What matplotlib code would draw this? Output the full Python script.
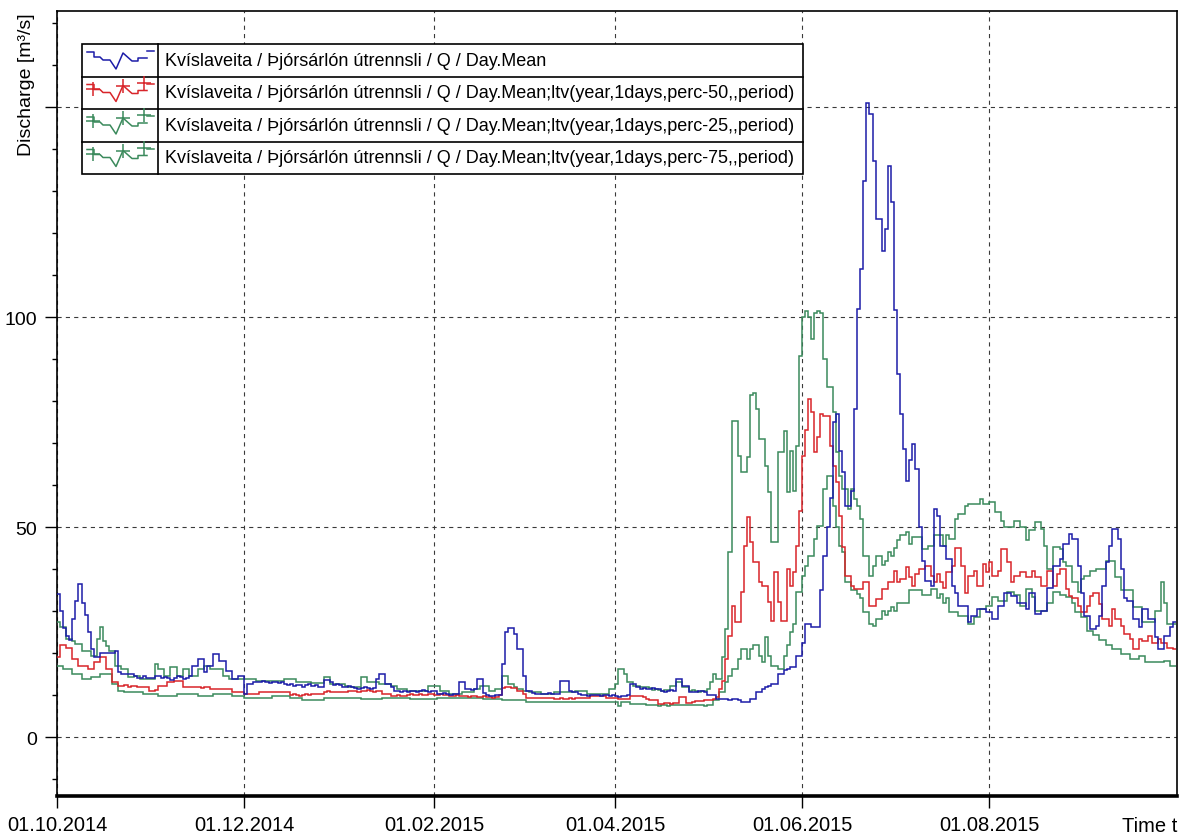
# Discharge chart, Kvíslaveita / Þjórsárlón útrennsli
import numpy as np
import matplotlib
matplotlib.use("Agg")
from matplotlib import pyplot as plt
from matplotlib.lines import Line2D
from matplotlib.patches import Rectangle
import matplotlib.dates as mdates
from datetime import datetime, timedelta

plt.rcParams['font.family'] = ['Liberation Sans', 'DejaVu Sans']
plt.rcParams['lines.scale_dashes'] = False

# daily values from 01.10.2014, one per day
start = datetime(2014, 10, 1)

day_mean = [
    34, 30, 26, 24, 23, 28, 32.5, 36.5, 32, 29,
    25, 21, 19, 19, 20, 20, 20, 20, 20, 20.5,
    15.5, 15, 15, 15, 15, 14.5, 14, 14, 14.5, 14,
    14, 14, 14.6, 14.6, 14, 14.2, 14, 13.6, 14, 14.6,
    14.2, 13.8, 14, 14.6, 17, 17, 18.6, 18.6, 15.4, 17,
    17, 19.8, 19.8, 18, 18, 15.8, 15.8, 13.8, 13.8, 14.6,
    14.6, 10.2, 12.6, 12.6, 13, 13.2, 13, 13.4, 13, 12.8,
    13, 13.2, 12.8, 13, 12.6, 12.4, 12.6, 12.2, 12.4, 12.4,
    12, 12.4, 12.6, 12.2, 12.4, 12, 12, 13.5, 13.5, 13,
    12.4, 12.6, 12.4, 11.8, 12, 12.2, 11.8, 11.6, 11.4, 11.6,
    11.8, 11.6, 11.4, 11.6, 13.8, 15, 15, 12.6, 12.6, 12,
    11, 11, 10.8, 11, 10.8, 11, 11, 10.8, 11, 11.2,
    11, 10.8, 11, 11, 10.2, 10.2, 10.4, 10.2, 10, 10.2,
    10.2, 13, 13, 11.4, 11.4, 11.2, 11.4, 13.8, 13.8, 10.4,
    10, 9.8, 9.8, 10, 10, 17.4, 25, 26, 26, 24.5,
    21, 21, 14.6, 11, 11, 10.4, 10.2, 10.2, 10.2, 10.2,
    10.4, 10.2, 10.2, 10.2, 13.3, 13.3, 13.3, 11, 10.6, 10.6,
    10.2, 10, 10, 9.8, 10, 10, 10, 9.8, 10, 10,
    9.8, 10, 9.8, 9.6, 9.8, 9.8, 10, 12.6, 12.6, 11.8,
    11.5, 11.6, 11.4, 11.5, 11.6, 11.4, 11.5, 11, 10.8, 11,
    11.2, 11, 13.8, 13.8, 12.2, 12.2, 10.8, 10.6, 10.8, 11,
    11, 10.8, 9.9, 9.9, 9.9, 9, 9, 9.1, 9, 8.9,
    9, 9, 8.8, 8.3, 8.3, 8.3, 9, 9, 10.6, 10.6,
    11.4, 11.8, 12.2, 12.6, 12.6, 15, 15, 16, 16.2, 16.6,
    16.6, 19.4, 19.4, 22.5, 27, 27, 26.1, 26.1, 26.1, 35,
    43, 50, 57, 75, 77, 68, 63, 55, 55, 58.7,
    78, 102, 111.4, 132.5, 151, 148.3, 137.2, 123.3, 123.3, 115.8,
    121.1, 136, 127.5, 101.8, 86.4, 76.9, 68.6, 61, 66, 69.7,
    63.8, 50, 42, 37.2, 37.2, 36, 54.3, 52.7, 45.5, 45.5,
    42.4, 42.4, 36, 34.4, 31.3, 31.3, 31.3, 27.3, 28.9, 28.9,
    30.5, 30.5, 30.5, 29.7, 29.7, 28.1, 28.1, 31.3, 31.3, 34.4,
    34.4, 33.6, 33.6, 32, 32, 32, 30.5, 34.4, 34.4, 29.3,
    29.3, 30, 30, 35.6, 35.6, 40.8, 40.8, 42.4, 46, 46,
    48.3, 47.1, 47.1, 40.8, 34.4, 28.9, 28.9, 25.7, 25.7, 26.5,
    28.9, 36, 41.6, 45.5, 49.5, 49.5, 47.1, 40, 33.2, 32.4,
    32.4, 28.1, 28.1, 26.1, 30.5, 30.5, 28.1, 28.1, 23.7, 21,
    21, 24.1, 24.1, 26.1, 27.3,
]

perc50 = [
    19, 22, 22, 21.3, 21.3, 18.6, 18.6, 17, 17, 17,
    16.2, 16.2, 17.8, 17.8, 19, 19, 16.2, 16.2, 13, 13,
    12.2, 12.2, 12.4, 12, 12.2, 12.2, 11.8, 11.8, 11.8, 11.8,
    11, 11, 11.2, 12.2, 12.2, 12.2, 13, 13, 13.4, 13.4,
    13.4, 11.8, 11.8, 12, 11.8, 11.8, 11.8, 11.6, 11.8, 11.8,
    11.4, 11.4, 11.4, 11.4, 11.4, 11.4, 11.4, 10.6, 10.6, 10.6,
    10.6, 10.2, 10.2, 10.2, 10.2, 10.2, 10.6, 10.6, 10.6, 10.6,
    10.6, 10.6, 10.6, 10.6, 10.6, 10.6, 10, 10.2, 10, 9.8,
    10, 10.2, 10, 10.2, 10.2, 10.2, 10.2, 10.8, 11, 10.8,
    10.8, 10.6, 10.8, 10.6, 10.8, 11, 11, 11, 10.8, 11,
    11, 11.2, 11, 10.8, 11, 11, 10.2, 10.2, 10.2, 9.8,
    9.8, 10, 9.8, 9.8, 10, 10.2, 10, 10, 10.2, 10,
    10, 10.2, 10.2, 10, 10, 10.2, 10, 10, 9.8, 9.8,
    10, 9.8, 9.8, 9.8, 9.6, 9.8, 9.8, 9.6, 9.6, 9.8,
    9.6, 9.6, 9.4, 9.6, 10, 11.6, 12, 11.8, 11.6, 11.6,
    11, 11, 10.2, 9.4, 9.4, 9.4, 9.4, 9.4, 9.4, 9.4,
    9.4, 9.4, 9, 9, 9.2, 9, 9, 9.2, 9, 9.4,
    9.4, 9.4, 9.4, 9.4, 9.8, 9.8, 9.8, 9.8, 9.8, 9.4,
    9.4, 9.4, 9.4, 9, 9, 9, 9, 9.8, 9.8, 9.8,
    9.8, 9.5, 9, 8.7, 8.7, 8.7, 7.9, 7.9, 8, 8,
    7.9, 8, 8, 9.5, 9.5, 8.2, 8.2, 8.4, 8.6, 8.6,
    8.6, 8.7, 8.7, 8.7, 9, 9.5, 11.4, 13.4, 18.6, 24.1,
    31.3, 27.3, 27.3, 34.5, 45.6, 52.3, 46.4, 41.6, 41.6, 36.8,
    36, 36, 32.1, 27.7, 39.2, 32.1, 27.7, 27.7, 40, 36,
    39.2, 45.6, 53.9, 67, 73, 80.5, 77.3, 67.8, 71.4, 76.9,
    76.5, 76.5, 69.4, 64.6, 60.7, 52.7, 45.2, 38.4, 38.4, 36,
    35.3, 35.3, 35.3, 36.8, 36.8, 31.3, 31.3, 32.8, 32.8, 35.2,
    35.2, 36.8, 36.8, 39.6, 36.8, 37.6, 37.6, 40.4, 38, 36,
    38.8, 40, 40, 40.8, 40.8, 38.4, 36.8, 38.8, 36.8, 35.6,
    39.2, 39.2, 40.8, 45.1, 45.1, 40.8, 34.4, 38.4, 38.4, 39.6,
    36, 36, 41.2, 39.2, 41.6, 38.4, 38.4, 39.6, 44.7, 44.7,
    41.6, 36.8, 38.4, 38.4, 39.2, 39.2, 38, 38, 39.6, 38,
    38, 36, 36, 39.6, 39.6, 36, 38.8, 40, 40, 35.2,
    33.6, 33.2, 33.2, 31.3, 29.7, 29.7, 31.3, 33.6, 34.4, 34.4,
    31.7, 28.1, 28.1, 26.5, 30.5, 28.1, 28.1, 26.5, 24.5, 24.5,
    23.3, 21, 21, 23.3, 22.9, 22.9, 24.1, 22.5, 22.5, 23.3,
    22.5, 22.5, 21.3, 21.3, 21,
]

perc25 = [
    17, 17, 16.2, 16.2, 16.2, 15, 15, 15, 13.8, 13.8,
    13.8, 14.2, 14.2, 14.2, 15, 15, 15, 15, 12.6, 12.6,
    11, 11, 10.6, 10.6, 10.6, 10.6, 10.6, 10.6, 10.2, 10.2,
    10.2, 10.2, 10.2, 9.8, 9.8, 9.8, 9.8, 9.8, 9.8, 10.2,
    10.2, 10.2, 10.2, 10.2, 10.2, 10.2, 9.8, 9.8, 9.8, 9.8,
    9.8, 10.2, 10.2, 10.2, 10.2, 10.2, 10.2, 9.8, 9.8, 9.8,
    9.8, 9.4, 9.4, 9.4, 9.4, 9.4, 9.4, 9.4, 9.4, 9.4,
    9.8, 9.8, 9.8, 9.8, 9.8, 9.8, 9.4, 9.4, 9.4, 9.4,
    8.7, 8.7, 8.7, 8.7, 8.7, 8.7, 8.7, 9.4, 9.4, 9.4,
    9.4, 9.4, 9.4, 9.4, 9.4, 9.4, 9.4, 9.4, 9.4, 9,
    9, 9, 9, 9, 9, 9, 9.4, 9.4, 9.4, 9.4,
    9.4, 9.4, 9.4, 9.4, 9.4, 9, 9, 9, 9, 9,
    9, 9, 9, 9, 9.4, 9.4, 9.4, 9.4, 9.4, 9.4,
    9.4, 9.4, 9.4, 9.4, 9.4, 9.4, 9.4, 9.4, 9.4, 9,
    9, 9, 9, 9, 9, 8.7, 8.7, 8.7, 8.7, 8.7,
    8.7, 8.7, 8.7, 8.3, 8.3, 8.3, 8.3, 8.3, 8.3, 8.3,
    8.3, 8.3, 8.3, 8.3, 8.3, 8.3, 8.3, 8.3, 8.3, 8.3,
    8.3, 8.4, 8.4, 8.4, 8.4, 8.4, 8.4, 8.4, 8.4, 8.4,
    8.4, 8.4, 8.4, 7.5, 8.3, 8.3, 8.3, 7.9, 7.9, 7.8,
    7.9, 7.8, 7.7, 7.7, 7.6, 7.6, 7.5, 7.6, 7.6, 7.5,
    7.6, 7.6, 7.7, 7.6, 7.6, 7.7, 7.6, 7.6, 7.7, 7.6,
    7.6, 7.5, 7.6, 7.7, 8.7, 8.7, 10.6, 10.6, 13, 14.6,
    16.2, 16.2, 18.6, 21, 21, 18.6, 21, 21.8, 21.8, 19.4,
    17.8, 23.7, 19.4, 17, 17, 16.2, 16.2, 19.4, 21.8, 24.9,
    26.9, 34.5, 34.5, 38.4, 40.8, 43.2, 43.2, 47.2, 50.3, 50.3,
    59, 62.2, 62.2, 55, 50, 45.5, 44, 37, 36.8, 35,
    35, 34, 33, 29.7, 29.7, 27, 26.5, 28, 28, 30,
    29, 30, 31, 30, 32, 32, 32, 32, 34.9, 34.9,
    34.9, 34.9, 33.7, 33.7, 33.7, 35.3, 35.3, 33, 34, 32,
    33, 29.7, 29.7, 29.7, 28.9, 28.9, 28.9, 27, 27, 28.5,
    28.5, 30.5, 30.5, 31.3, 31.3, 33.3, 33.3, 32.5, 32.5, 32.5,
    34.5, 34.5, 33.7, 33.7, 31.3, 31.3, 35.3, 35.3, 33.3, 30.1,
    30.1, 30.1, 30.1, 32, 32, 34.5, 34.5, 33.7, 33.7, 33.3,
    33.3, 32, 29.7, 29.7, 28.5, 28.5, 25.3, 25.3, 24.2, 24.2,
    23, 23, 21.8, 21.8, 21, 21, 21, 19.8, 19.8, 19.8,
    18.6, 18.6, 18.6, 19.2, 19.2, 17.8, 17.8, 17.8, 17.8, 17.8,
    17.8, 18.2, 18.2, 17, 17,
]

perc75 = [
    27.3, 26.1, 26.1, 23.3, 23.3, 22.9, 22.1, 22.1, 20.6, 20.6,
    20.6, 19.4, 19.4, 23.3, 26.1, 22.9, 21.7, 20.6, 20.6, 17,
    17, 16.2, 16.2, 14.2, 14.2, 14.6, 14.6, 13.8, 13.8, 13.8,
    13.8, 13.8, 17.4, 16.2, 16.2, 14.6, 14.6, 16.6, 16.6, 14.6,
    14.6, 16.2, 16.2, 14.6, 14.6, 14.6, 16.2, 16.2, 17, 17,
    16.2, 16.2, 16.2, 16.2, 14.6, 14.6, 13.8, 13.8, 13.8, 13.8,
    13.8, 13.8, 13.8, 13.8, 13.8, 13.4, 13.4, 13.4, 13.4, 13.4,
    13.4, 13.4, 13.4, 13.4, 13.8, 13.8, 13.8, 13.8, 13, 13,
    13, 13, 13, 12.8, 12.8, 12.8, 12.8, 14.2, 14.2, 12.6,
    12.6, 12.6, 12.6, 12.6, 12.2, 12, 12, 12, 12, 14.2,
    14.2, 13, 13, 13, 13, 12.6, 12.6, 12.6, 12.6, 12.2,
    12.2, 11.4, 11.4, 11.4, 11, 11, 11, 11, 11, 11,
    11, 12.2, 12.2, 12.2, 12.2, 11, 11, 11, 10.2, 10.2,
    10.2, 10.2, 10.6, 10.6, 10.6, 10.6, 11.4, 11.4, 12.2, 12.2,
    12.2, 11, 11, 11.4, 11.4, 14.6, 14.6, 12.6, 12.6, 12,
    11.4, 11.4, 11, 11, 10.6, 10.6, 10.6, 10.6, 10.2, 10.2,
    10.2, 10.2, 10.6, 10.6, 10.6, 10.6, 10.6, 10.6, 10.6, 11,
    11, 11, 11, 10.2, 10.2, 10.2, 10.2, 10.2, 10.2, 10.2,
    11.4, 11.4, 12.6, 16.2, 16.2, 15, 13, 13, 12.2, 12.2,
    11.8, 11.8, 11.8, 11.6, 11.2, 11.4, 11.2, 11, 11.2, 11.2,
    12.2, 12.2, 13, 13, 12, 12, 11, 11.2, 11, 10.8,
    11, 11, 11.4, 13, 15, 13.8, 13.8, 19, 25.7, 44,
    75.3, 75.3, 67, 63, 63, 66.6, 81.5, 82, 78.1, 71,
    71, 64.6, 58.3, 46.4, 46.4, 67.8, 67.8, 72.9, 58.3, 68.2,
    58.7, 69.4, 90.8, 100, 101.5, 100, 94.8, 101, 101.5, 101,
    90, 83.3, 83.3, 77.3, 67.8, 62.2, 59, 59, 54.3, 59,
    56.7, 55, 51.9, 43.2, 43.2, 38.4, 40.7, 43.2, 43.2, 41,
    42, 44, 43, 45, 47, 48, 48, 48.8, 46, 47.6,
    47.6, 47.6, 44.8, 44.8, 45.6, 45.6, 48, 48, 48, 45.6,
    48, 47.2, 47.2, 52, 53.1, 53.1, 55.1, 55.5, 55.5, 55.5,
    55.5, 56.7, 55.5, 55.5, 55.9, 55.9, 53.5, 53.5, 51.5, 50,
    50, 50, 51.5, 51.5, 50, 50, 46.8, 49.2, 49.2, 51.1,
    51.1, 49.5, 45.6, 40, 40, 45.2, 45.2, 44.8, 41.6, 40.8,
    40.8, 36.9, 36.9, 34.5, 37.6, 38.4, 38.4, 39.6, 39.6, 40,
    40, 40, 42, 42, 42, 38, 38, 35, 35, 35,
    35, 31, 31, 31, 27.5, 27.5, 27.5, 27.5, 30, 30,
    36.9, 32, 27, 27, 27,
]

series = [
    ("Kvíslaveita / Þjórsárlón útrennsli / Q / Day.Mean", day_mean, "#1c1ca8"),
    ("Kvíslaveita / Þjórsárlón útrennsli / Q / Day.Mean;ltv(year,1days,perc-50,,period)", perc50, "#d8252a"),
    ("Kvíslaveita / Þjórsárlón útrennsli / Q / Day.Mean;ltv(year,1days,perc-25,,period)", perc25, "#3b8a5c"),
    ("Kvíslaveita / Þjórsárlón útrennsli / Q / Day.Mean;ltv(year,1days,perc-75,,period)", perc75, "#3b8a5c"),
]

month_ticks = [datetime(2014, 10, 1), datetime(2014, 12, 1), datetime(2015, 2, 1),
               datetime(2015, 4, 1), datetime(2015, 6, 1), datetime(2015, 8, 1)]
y_major = [0, 50, 100, 150]
y_labels = ["0", "50", "100", ""]

W, H = 1185, 837
fig = plt.figure(figsize=(W / 100, H / 100), dpi=100)
ax = fig.add_axes([57 / W, 1 - 797 / H, (1177 - 57) / W, (797 - 12) / H])


def day_edges(n):
    return mdates.date2num([start + timedelta(days=i) for i in range(n + 1)])


# draw the percentiles first, the actual year on top
for name, vals, col in [series[3], series[2], series[1], series[0]]:
    ax.stairs(vals, day_edges(len(vals)), baseline=None, color=col, lw=1.1, zorder=3)

ax.set_xlim(mdates.date2num(start), mdates.date2num(start + timedelta(days=365.3)))
ax.set_ylim(-14.05, 172.9)

ax.set_xticks(mdates.date2num(month_ticks))
ax.set_xticklabels([d.strftime("%d.%m.%Y") for d in month_ticks])
ax.set_yticks(y_major)
ax.set_yticklabels(y_labels)
ax.set_yticks(np.arange(-10, 171, 10), minor=True)

ax.tick_params(axis='both', which='major', direction='out', length=8.6, width=1,
               colors='black')
ax.tick_params(axis='y', which='minor', direction='out', length=3.6, width=1)
ax.tick_params(axis='y', which='major', pad=6, labelsize=14)
ax.tick_params(axis='x', which='major', pad=5, labelsize=14.5)

ax.grid(True, which='major', linestyle=(0, (3, 3)), color='#3a3a3a', lw=0.8, zorder=1)

for s in ['left', 'top', 'right']:
    ax.spines[s].set_linewidth(1.2)
ax.spines['bottom'].set_linewidth(2.6)


def fx(x):
    return x / W


def fy(y):
    return 1 - y / H


# axis titles
fig.text(fx(26.5), fy(13), "Discharge [m³/s]", rotation=90, ha='center', va='top', fontsize=14)
fig.text(fx(1177), fy(827), "Time t", ha='right', va='center', fontsize=14.5)

# table-like legend box
box_l, box_r, box_t, row_h, div_x = 82, 803, 45, 32.5, 158
fig.add_artist(Rectangle((fx(box_l), fy(box_t + 4 * row_h)), fx(box_r) - fx(box_l),
                         fy(box_t) - fy(box_t + 4 * row_h), transform=fig.transFigure,
                         facecolor='white', edgecolor='black', lw=1.2, zorder=5))
for i in range(1, 4):
    yy = box_t + i * row_h
    fig.add_artist(Line2D([fx(box_l), fx(box_r)], [fy(yy), fy(yy)], color='black',
                          lw=1.2, transform=fig.transFigure, zorder=6))
fig.add_artist(Line2D([fx(div_x), fx(div_x)], [fy(box_t), fy(box_t + 4 * row_h)],
                      color='black', lw=1.2, transform=fig.transFigure, zorder=6))

icon_dx = [5, 12, 12, 18, 21, 28, 34, 41, 50, 56, 56, 65]
icon_dy = [8, 8, 13, 13, 16, 16, 25, 9, 17, 17, 14, 14]
for i, (name, vals, col) in enumerate(series):
    top = box_t + i * row_h
    xs = [fx(box_l + d) for d in icon_dx]
    ys = [fy(top + d) for d in icon_dy]
    fig.add_artist(Line2D(xs, ys, color=col, lw=1.1, transform=fig.transFigure, zorder=7))
    fig.add_artist(Line2D([fx(box_l + 65), fx(box_l + 72)], [fy(top + 7), fy(top + 7)],
                          color=col, lw=1.1, transform=fig.transFigure, zorder=7))
    if i > 0:
        fig.add_artist(Line2D([fx(box_l + 11), fx(box_l + 41), fx(box_l + 62)],
                              [fy(top + 12), fy(top + 9), fy(top + 6)], ls='none',
                              marker='+', ms=10, mew=1.1, color=col,
                              transform=fig.transFigure, zorder=7))
    fig.text(fx(165), fy(top + row_h / 2), name, ha='left', va='center', fontsize=13, zorder=8)

fig.savefig("out.png", dpi=100)
